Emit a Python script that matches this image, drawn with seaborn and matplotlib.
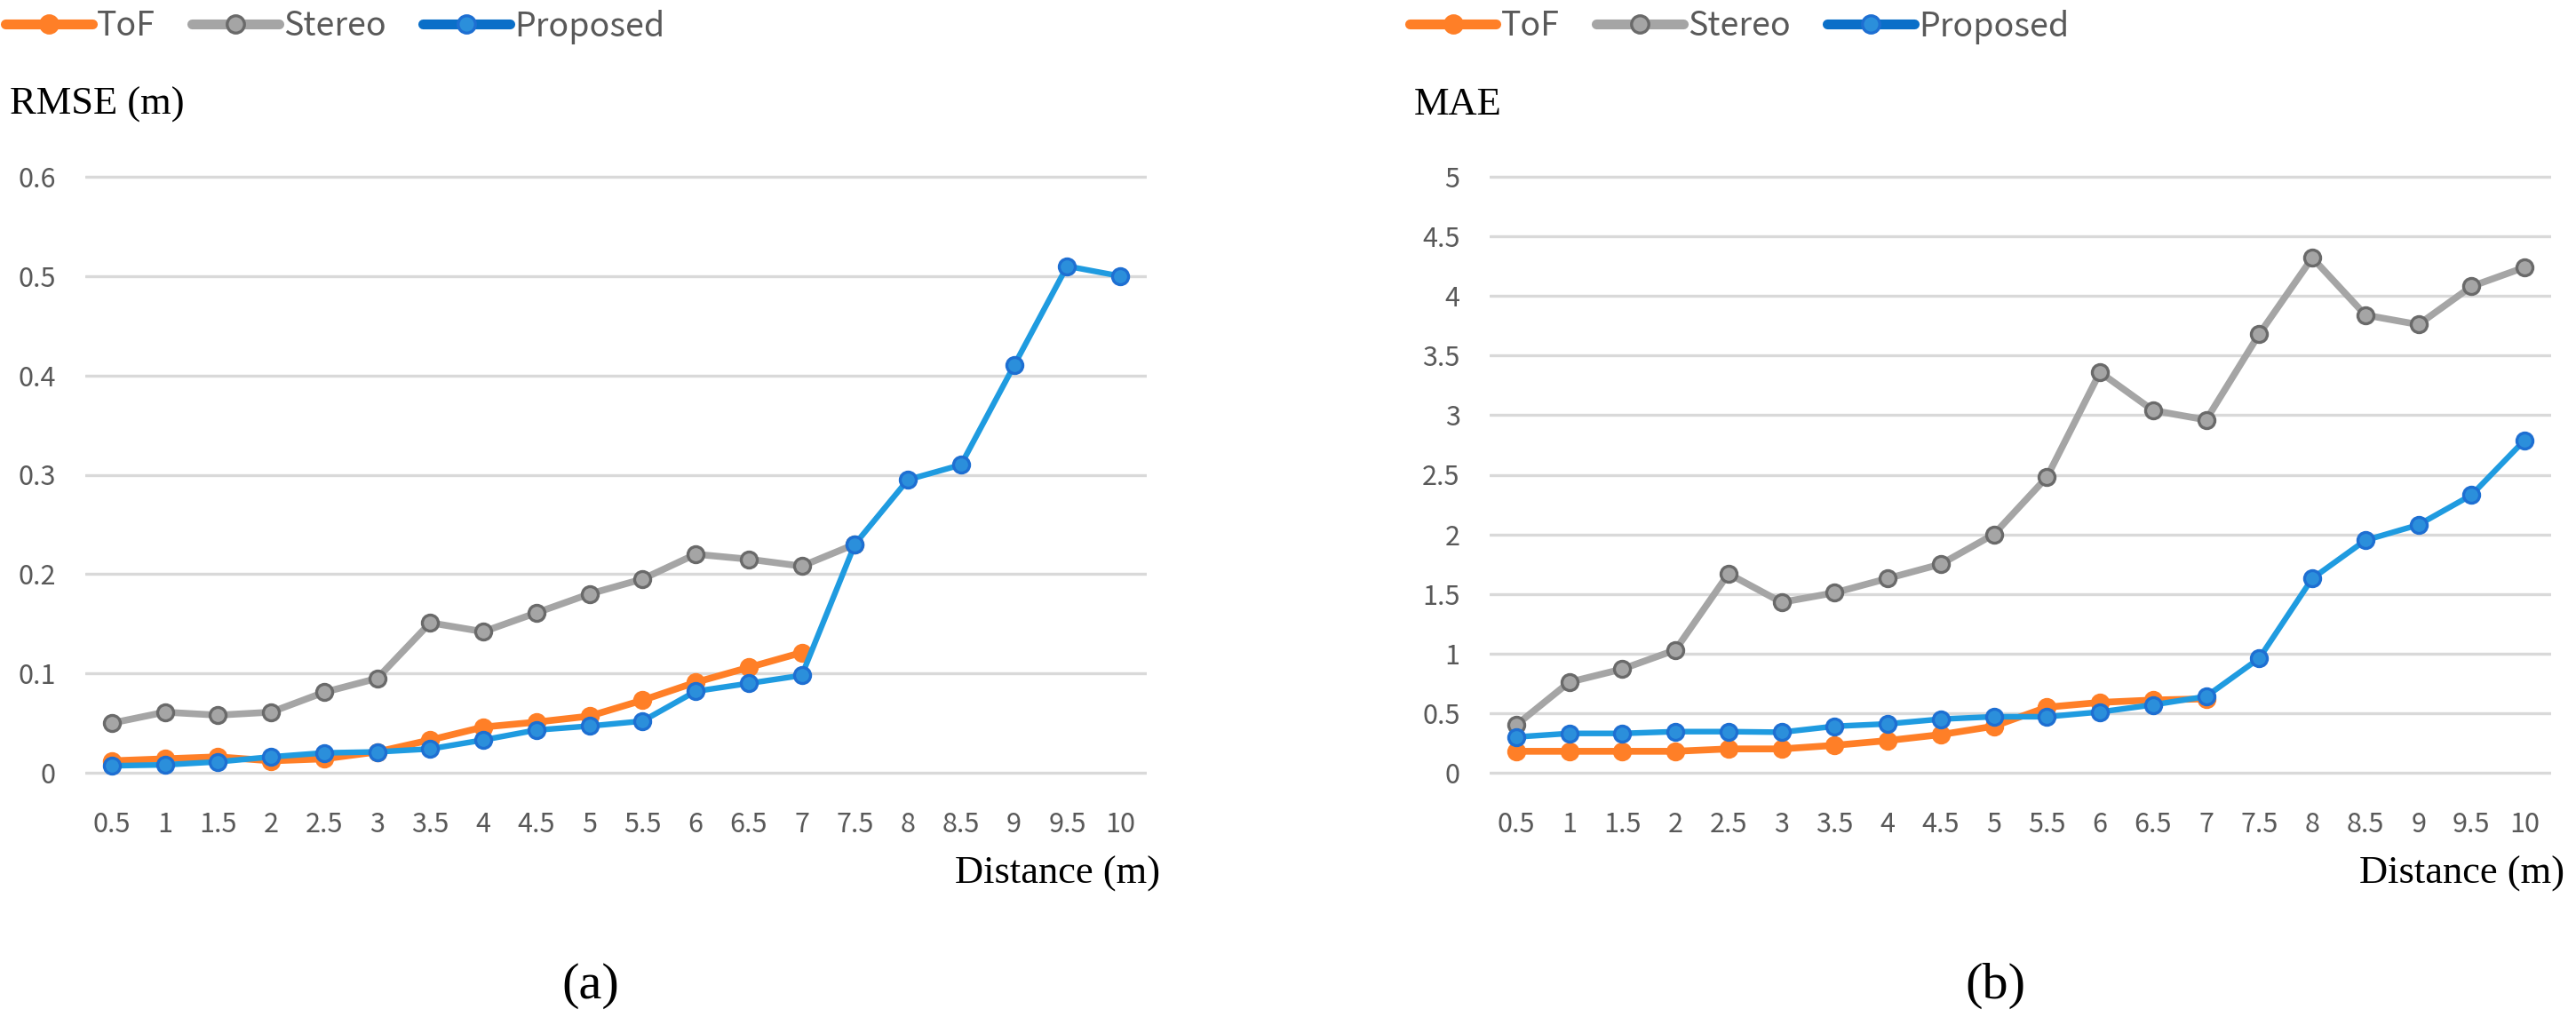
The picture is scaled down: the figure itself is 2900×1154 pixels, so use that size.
import numpy as np
import pandas as pd
import matplotlib
matplotlib.use('Agg')
import matplotlib.pyplot as plt
from matplotlib.lines import Line2D
import seaborn as sns

# Data
distance = [0.5, 1, 1.5, 2, 2.5, 3, 3.5, 4, 4.5, 5, 5.5, 6, 6.5, 7, 7.5, 8, 8.5, 9, 9.5, 10]
tick_labels = ['0.5', '1', '1.5', '2', '2.5', '3', '3.5', '4', '4.5', '5',
               '5.5', '6', '6.5', '7', '7.5', '8', '8.5', '9', '9.5', '10']

rmse_tof = [0.012, 0.014, 0.016, 0.012, 0.014, 0.021, 0.033, 0.046, 0.051, 0.057,
            0.073, 0.091, 0.106, 0.121]
rmse_stereo = [0.050, 0.061, 0.058, 0.061, 0.081, 0.095, 0.151, 0.142, 0.161, 0.180,
               0.195, 0.220, 0.215, 0.208, 0.230]
rmse_proposed = [0.007, 0.008, 0.011, 0.016, 0.020, 0.021, 0.024, 0.033, 0.043, 0.047,
                 0.052, 0.082, 0.090, 0.098, 0.230, 0.295, 0.310, 0.410, 0.510, 0.500]

mae_tof = [0.18, 0.18, 0.18, 0.18, 0.20, 0.20, 0.23, 0.27, 0.32, 0.39,
           0.55, 0.59, 0.61, 0.62]
mae_stereo = [0.40, 0.76, 0.87, 1.03, 1.67, 1.43, 1.51, 1.63, 1.75, 2.00,
              2.48, 3.36, 3.04, 2.96, 3.68, 4.32, 3.84, 3.76, 4.08, 4.24]
mae_proposed = [0.30, 0.33, 0.33, 0.345, 0.345, 0.34, 0.39, 0.41, 0.45, 0.47,
                0.47, 0.51, 0.57, 0.64, 0.96, 1.63, 1.95, 2.08, 2.33, 2.79]

series_names = ['ToF', 'Stereo', 'Proposed']

# Styles
line_colors = {'ToF': '#FF7F27', 'Stereo': '#A5A5A5', 'Proposed': '#1F9BE0'}
marker_faces = {'ToF': '#FF7F27', 'Stereo': '#A5A5A5', 'Proposed': '#2B8FDB'}
marker_edges = {'ToF': '#FF7F27', 'Stereo': '#6A6A6A', 'Proposed': '#1E6FD2'}
line_widths = {'ToF': 5.5, 'Stereo': 5.5, 'Proposed': 4.6}
legend_line = {'ToF': '#FF7F27', 'Stereo': '#A5A5A5', 'Proposed': '#0A6FC8'}
grid_color = '#D9D9D9'
tick_color = '#595959'

sns.set_theme(style='white')
plt.rcParams['font.family'] = ['Noto Sans CJK KR', 'DejaVu Sans']
serif = ['Liberation Serif', 'DejaVu Serif']

W, H = 2900, 1154
fig = plt.figure(figsize=(W / 100, H / 100), dpi=100)


def make_frame(values):
    rows = []
    for name, vals in zip(series_names, values):
        for d, v in zip(distance, vals):
            rows.append({'Distance': d, 'Value': v, 'Series': name})
    return pd.DataFrame(rows)


def draw_panel(x_left, values, ymax, ystep, ylabel, panel_tag):
    # pixel geometry: y=0 at 870 px, y=ymax at 199 px
    y0_px, ytop_px, margin = 870, 199, 12
    per_px = ymax / (y0_px - ytop_px)
    ax = fig.add_axes([x_left / W, (H - y0_px - margin) / H,
                       1195 / W, (y0_px - ytop_px + 2 * margin) / H])
    df = make_frame(values)
    for name in series_names:
        sub = df[df['Series'] == name]
        sns.lineplot(data=sub, x='Distance', y='Value', ax=ax,
                     color=line_colors[name], lw=line_widths[name],
                     marker='o', markersize=13, markerfacecolor=marker_faces[name],
                     markeredgecolor=marker_edges[name], markeredgewidth=2.4,
                     legend=False, zorder=3, clip_on=False)
    ax.set_xlim(0.25, 10.25)
    ax.set_ylim(-margin * per_px, ymax + margin * per_px)
    yt = np.arange(0, ymax + ystep / 2, ystep)
    ax.set_yticks(yt)
    ax.set_yticklabels([f'{v:g}' for v in np.round(yt, 2)])
    ax.set_xticks(distance)
    ax.set_xticklabels(tick_labels)
    ax.tick_params(axis='both', length=0, labelsize=22, labelcolor=tick_color)
    ax.tick_params(axis='y', pad=24)
    ax.tick_params(axis='x', pad=22)
    for v in yt:
        ax.axhline(v, color=grid_color, lw=2.4, zorder=1)
    for s in ax.spines.values():
        s.set_visible(False)
    ax.set_xlabel('')
    ax.set_ylabel('')

    # Texts around the panel
    fig.text((x_left - 85) / W, 1 - 118 / H, ylabel, family=serif,
             fontsize=32, va='center', ha='left', color='black')
    fig.text((x_left + 1210) / W, 1 - 984 / H, 'Distance (m)', family=serif,
             fontsize=32, va='center', ha='right', color='black')
    fig.text((x_left + 569) / W, 1 - 1110 / H, panel_tag, family=serif,
             fontsize=42, va='center', ha='center', color='black')

    handles = [Line2D([0], [0], color=legend_line[n], lw=8, marker='o', markersize=14,
                      markerfacecolor=marker_faces[n], markeredgecolor=marker_edges[n],
                      markeredgewidth=2.4, solid_capstyle='round')
               for n in series_names]
    leg = fig.legend(handles, series_names, loc='center left',
                     bbox_to_anchor=((x_left - 90) / W, 1 - 30 / H),
                     ncol=3, frameon=False, fontsize=27, handlelength=2.6,
                     handletextpad=0.15, columnspacing=1.1, borderaxespad=0,
                     borderpad=0)
    for t in leg.get_texts():
        t.set_color(tick_color)
    return ax


draw_panel(96, [rmse_tof, rmse_stereo, rmse_proposed], 0.6, 0.1, 'RMSE (m)', '(a)')
draw_panel(1677, [mae_tof, mae_stereo, mae_proposed], 5.0, 0.5, 'MAE', '(b)')

fig.savefig('out.png', dpi=100, facecolor='white')
